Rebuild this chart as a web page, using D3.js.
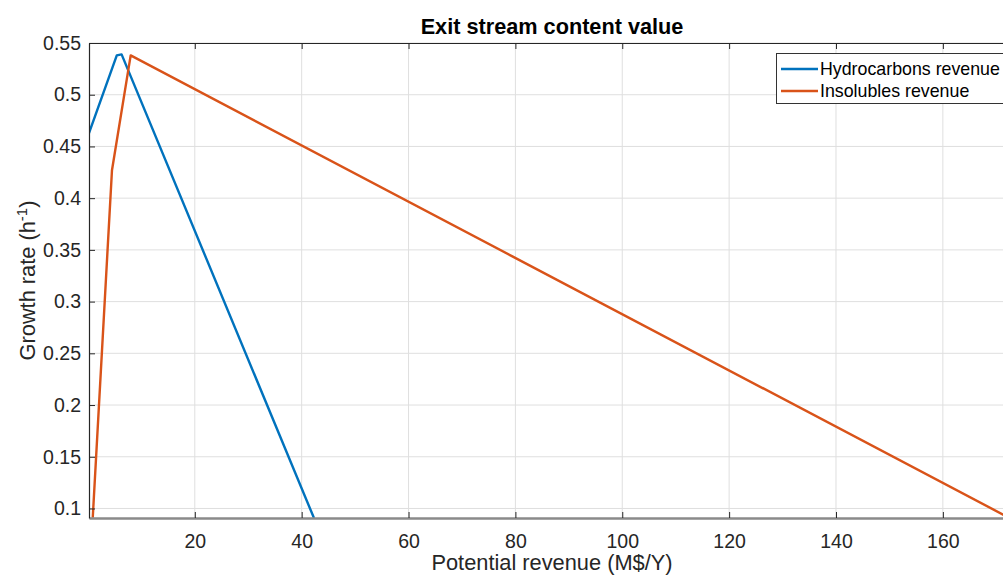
<!DOCTYPE html>
<html>
<head>
<meta charset="utf-8">
<script src="https://cdn.jsdelivr.net/npm/d3@7"></script>
<style>
  html, body { margin: 0; padding: 0; background: #fff; }
  svg { display: block; font-family: "Liberation Sans", Arial, sans-serif; }
</style>
</head>
<body>
<svg id="chart" width="1003" height="576"></svg>
<script>
// Potential revenue (M$/Y) vs growth rate (1/h)
const hydroX = [0.2, 5.4, 6.3, 42.3];
const hydroY = [0.463, 0.538, 0.539, 0.0908];
const insolX = [0.9, 4.5, 8.0, 173.5];
const insolY = [0.091, 0.427, 0.538, 0.088];

const xTicks = [20, 40, 60, 80, 100, 120, 140, 160];
const yTicks = [0.1, 0.15, 0.2, 0.25, 0.3, 0.35, 0.4, 0.45, 0.5, 0.55];
const yTickLabels = ["0.1", "0.15", "0.2", "0.25", "0.3", "0.35", "0.4", "0.45", "0.5", "0.55"];
const seriesNames = ["Hydrocarbons revenue", "Insolubles revenue"];
const seriesColors = ["#0072BD", "#D95319"];

const xDomain = [0.2, 173.5];
const yDomain = [0.0908, 0.55];

const margin = { left: 89, top: 43, right: 1015, bottom: 518 };
const svg = d3.select("#chart");

const x = d3.scaleLinear().domain(xDomain).range([margin.left, margin.right]);
const y = d3.scaleLinear().domain(yDomain).range([margin.bottom, margin.top]);

const axisColor = "#262626";
const font = "Liberation Sans, Arial, sans-serif";

// grid
const grid = svg.append("g");
grid.selectAll("line.gx").data(xTicks).enter().append("line")
  .attr("x1", d => x(d)).attr("x2", d => x(d))
  .attr("y1", margin.top).attr("y2", margin.bottom)
  .attr("stroke", "#dfdfdf").attr("stroke-width", 1);
grid.selectAll("line.gy").data(yTicks).enter().append("line")
  .attr("y1", d => y(d)).attr("y2", d => y(d))
  .attr("x1", margin.left).attr("x2", margin.right)
  .attr("stroke", "#dfdfdf").attr("stroke-width", 1);

// clip region for the data
svg.append("clipPath").attr("id", "plotClip").append("rect")
  .attr("x", margin.left).attr("y", margin.top)
  .attr("width", margin.right - margin.left).attr("height", margin.bottom - margin.top);

const line = d3.line().x(d => x(d[0])).y(d => y(d[1]));
const series = [d3.zip(hydroX, hydroY), d3.zip(insolX, insolY)];
svg.append("g").attr("clip-path", "url(#plotClip)")
  .selectAll("path").data(series).enter().append("path")
  .attr("d", line)
  .attr("fill", "none")
  .attr("stroke", (d, i) => seriesColors[i])
  .attr("stroke-width", 2.4)
  .attr("stroke-linejoin", "round");

// axes with inward ticks
const xAxis = d3.axisBottom(x).tickValues(xTicks).tickSizeInner(-6).tickSizeOuter(0).tickPadding(16);
const gx = svg.append("g").attr("transform", `translate(0,${margin.bottom})`).call(xAxis);
gx.select(".domain").attr("stroke", "#8a8a8a").attr("stroke-width", 2.5);
gx.selectAll(".tick line").attr("stroke", axisColor);
gx.selectAll(".tick text").attr("fill", axisColor).style("font-size", "19.5px")
  .style("font-family", font);

const xTop = d3.axisTop(x).tickValues(xTicks).tickSizeInner(-6).tickSizeOuter(0).tickFormat("");
const gxt = svg.append("g").attr("transform", `translate(0,${margin.top})`).call(xTop);
gxt.select(".domain").attr("stroke", axisColor).attr("stroke-width", 1.2);
gxt.selectAll(".tick line").attr("stroke", axisColor);

const yAxis = d3.axisLeft(y).tickValues(yTicks).tickFormat((d, i) => yTickLabels[i])
  .tickSizeInner(-6).tickSizeOuter(0).tickPadding(8);
const gy = svg.append("g").attr("transform", `translate(${margin.left},0)`).call(yAxis);
gy.select(".domain").attr("stroke", axisColor).attr("stroke-width", 1.2);
gy.selectAll(".tick line").attr("stroke", axisColor);
gy.selectAll(".tick text").attr("fill", axisColor).style("font-size", "19.5px")
  .style("font-family", font);

// title and axis labels
const cx = (margin.left + margin.right) / 2;
svg.append("text").attr("x", cx).attr("y", 34).attr("text-anchor", "middle")
  .attr("font-weight", "bold").attr("font-size", 21.7).attr("fill", "#000")
  .text("Exit stream content value");
svg.append("text").attr("x", cx).attr("y", 570).attr("text-anchor", "middle")
  .attr("font-size", 21.8).attr("fill", axisColor)
  .text("Potential revenue (M$/Y)");
const yl = svg.append("text")
  .attr("transform", `translate(35,${(margin.top + margin.bottom) / 2}) rotate(-90)`)
  .attr("text-anchor", "middle").attr("font-size", 21.8).attr("fill", axisColor);
yl.append("tspan").text("Growth rate (h");
yl.append("tspan").attr("dy", -8).attr("font-size", 15).text("-1");
yl.append("tspan").attr("dy", 8).text(")");

// legend
const lg = svg.append("g");
lg.append("rect").attr("x", 776.5).attr("y", 53.5).attr("width", 240).attr("height", 50)
  .attr("fill", "#fff").attr("stroke", "#333").attr("stroke-width", 1);
seriesNames.forEach((name, i) => {
  const yy = 69 + i * 22;
  lg.append("line").attr("x1", 781).attr("x2", 818).attr("y1", yy).attr("y2", yy)
    .attr("stroke", seriesColors[i]).attr("stroke-width", 2.4);
  lg.append("text").attr("x", 820).attr("y", yy + 6.3).attr("font-size", 17.8)
    .attr("fill", "#000").text(name);
});
</script>
</body>
</html>
